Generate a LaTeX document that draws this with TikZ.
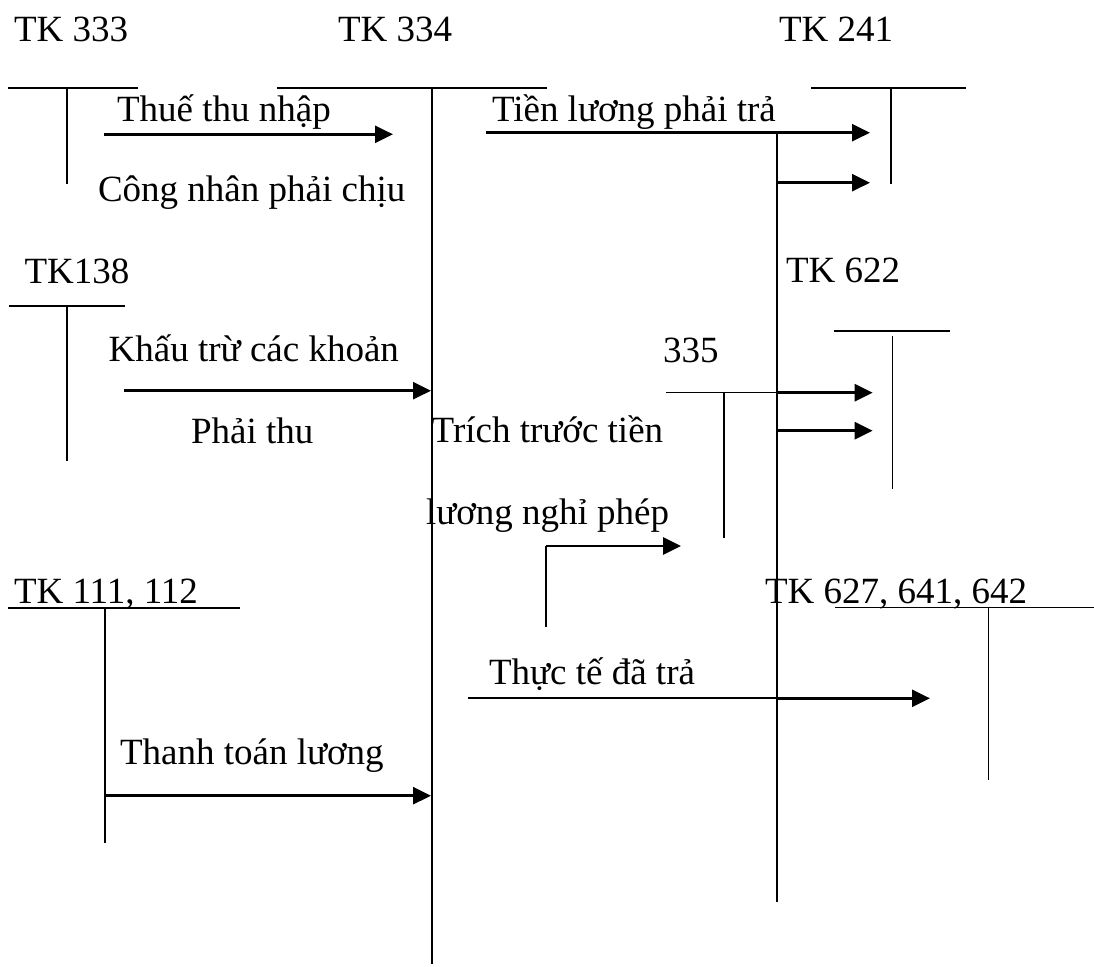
\documentclass[tikz,border=0pt]{standalone}
\usepackage{fontspec}
\setmainfont{Liberation Serif}
\usetikzlibrary{arrows.meta}
\tikzset{
  lbl/.style={anchor=base west, inner sep=0pt, outer sep=0pt, font=\fontsize{37}{44}\selectfont},
  tline/.style={line width=1.8pt},
  thinline/.style={line width=1.4pt},
  midline/.style={line width=1.8pt},
  arr/.style={line width=2.8pt, -{Triangle[length=18pt,width=17pt]}}
}
\begin{document}
\begin{tikzpicture}[x=1pt,y=-1pt]
\useasboundingbox (0,0) rectangle (1094,966);
% labels
\node[lbl] (t333) at (14,41.7) {TK 333};
\node[lbl] (t334) at (338,41.7) {TK 334};
\node[lbl] (t241) at (779,41.7) {TK 241};
\node[lbl] (l1) at (117,121.7) {Thuế thu nhập};
\node[lbl] (l2) at (492,121.7) {Tiền lương phải trả};
\node[lbl] (l3) at (98,201.7) {Công nhân phải chịu};
\node[lbl] (t138) at (24.6,283.3) {TK138};
\node[lbl] (t622) at (786,282.7) {TK 622};
\node[lbl] (l4) at (108.7,361.7) {Khấu trừ các khoản};
\node[lbl] (n335) at (663,362.7) {335};
\node[lbl] (l5) at (191,443.3) {Phải thu};
\node[lbl] (l6) at (431.7,442.7) {Trích trước tiền};
\node[lbl] (l7) at (426,524) {lương nghỉ phép};
\node[lbl] (t111) at (14,603.3) {TK 111, 112};
\node[lbl] (t627) at (765,603) {TK 627, 641, 642};
\node[lbl] (l8) at (489,684) {Thực tế đã trả};
\node[lbl] (l9) at (120,764) {Thanh toán lương};
% T-account coordinates
\coordinate (h333a) at (8,88);   \coordinate (h333b) at (138,88);
\coordinate (v333a) at (66.7,88); \coordinate (v333b) at (66.7,184);
\coordinate (h334a) at (277,88); \coordinate (h334b) at (547,88);
\coordinate (v334a) at (431.7,88); \coordinate (v334b) at (431.7,964);
\coordinate (h241a) at (811,88); \coordinate (h241b) at (966,88);
\coordinate (v241a) at (891,88); \coordinate (v241b) at (891,184);
\coordinate (h138a) at (9,306); \coordinate (h138b) at (124.5,306);
\coordinate (v138a) at (66.6,306); \coordinate (v138b) at (66.6,460.7);
\coordinate (h622a) at (834,331); \coordinate (h622b) at (950,331);
\coordinate (v622a) at (892.3,335.7); \coordinate (v622b) at (892.3,489);
\coordinate (h335a) at (666,392.7); \coordinate (h335b) at (777,392.7);
\coordinate (v335a) at (724,392.7); \coordinate (v335b) at (724,538);
\coordinate (h111a) at (8,607.7); \coordinate (h111b) at (240,607.7);
\coordinate (v111a) at (105,607.7); \coordinate (v111b) at (105,843.3);
\coordinate (h627a) at (835,607.7); \coordinate (h627b) at (1094,607.7);
\coordinate (v627a) at (988.3,607.7); \coordinate (v627b) at (988.3,780);
\coordinate (lva) at (777,132.7); \coordinate (lvb) at (777,901.7);
\coordinate (sva) at (546,546); \coordinate (svb) at (546,627);
\coordinate (tta) at (468,698.3); \coordinate (ttb) at (777,698.3);
% T-account lines
\draw[tline] (h333a) -- (h333b);
\draw[tline] (v333a) -- (v333b);
\draw[tline] (h334a) -- (h334b);
\draw[tline] (v334a) -- (v334b);
\draw[tline] (h241a) -- (h241b);
\draw[tline] (v241a) -- (v241b);
\draw[tline] (h138a) -- (h138b);
\draw[tline] (v138a) -- (v138b);
\draw[thinline] (h622a) -- (h622b);
\draw[thinline] (v622a) -- (v622b);
\draw[thinline] (h335a) -- (h335b);
\draw[tline] (v335a) -- (v335b);
\draw[tline] (h111a) -- (h111b);
\draw[tline] (v111a) -- (v111b);
\draw[thinline] (h627a) -- (h627b);
\draw[thinline] (v627a) -- (v627b);
\draw[tline] (lva) -- (lvb);
\draw[tline] (sva) -- (svb);
\draw[midline] (tta) -- (ttb);
% arrow coordinates
\coordinate (a1s) at (104,134.3); \coordinate (a1e) at (393,134.3);
\coordinate (a2s) at (486,132.7); \coordinate (a2e) at (870,132.7);
\coordinate (a3s) at (777,182.7); \coordinate (a3e) at (870,182.7);
\coordinate (a4s) at (123.5,390.7); \coordinate (a4e) at (431,390.7);
\coordinate (a5e) at (872.7,392.7);
\coordinate (a6s) at (777,430.7); \coordinate (a6e) at (872.7,430.7);
\coordinate (a7e) at (681,546);
\coordinate (a8s) at (105,795.7); \coordinate (a8e) at (431,795.7);
\coordinate (a9e) at (930,698.3);
% arrows
\draw[arr] (a1s) -- (a1e);
\draw[arr] (a2s) -- (a2e);
\draw[arr] (a3s) -- (a3e);
\draw[arr] (a4s) -- (a4e);
\draw[arr] (h335b) -- (a5e);
\draw[arr] (a6s) -- (a6e);
\draw[arr] (sva) -- (a7e);
\draw[arr] (a8s) -- (a8e);
\draw[arr] (ttb) -- (a9e);
\end{tikzpicture}
\end{document}
